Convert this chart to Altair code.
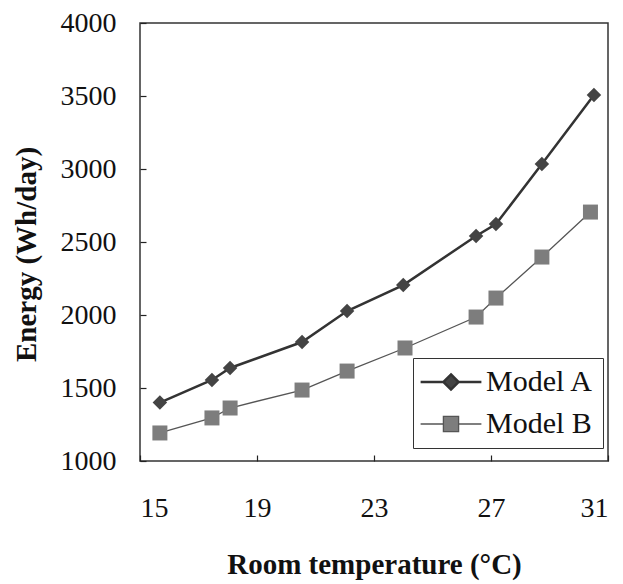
import altair as alt
import pandas as pd

temp_a = [15.68, 17.46, 18.08, 20.54, 22.08, 24.0, 26.49, 27.17, 28.74, 30.52]
energy_a = [1400, 1555, 1637, 1815, 2027, 2205, 2541, 2623, 3034, 3507]
temp_b = [15.68, 17.46, 18.08, 20.54, 22.08, 24.06, 26.49, 27.17, 28.74, 30.4]
energy_b = [1192, 1295, 1363, 1486, 1616, 1774, 1986, 2116, 2397, 2705]
series_names = ["Model A", "Model B"]
x_ticks = [15, 19, 23, 27, 31]
y_ticks = [1000, 1500, 2000, 2500, 3000, 3500, 4000]

df = pd.DataFrame({
    "temp": temp_a + temp_b,
    "energy": energy_a + energy_b,
    "series": [series_names[0]] * len(temp_a) + [series_names[1]] * len(temp_b),
})

FONT = "Liberation Serif"

x = alt.X("temp:Q", scale=alt.Scale(domain=[15, 31], nice=False, zero=False),
          axis=alt.Axis(values=x_ticks, title="Room temperature (°C)", domain=False,
                        offset=-6, tickSize=6, labelPadding=33, grid=False, format="d",
                        titleBaseline="alphabetic", titleY=118))
y = alt.Y("energy:Q", scale=alt.Scale(domain=[1000, 4000], nice=False, zero=False),
          axis=alt.Axis(values=y_ticks, title="Energy (Wh/day)", domain=False,
                        offset=-6, tickSize=6, labelPadding=24, grid=False, format="d",
                        titleAngle=-90, titleBaseline="alphabetic", titleX=-111, titleY=231))

base = alt.Chart(df)

line_a = base.transform_filter(alt.datum.series == "Model A").mark_line(
    color="#333333", strokeWidth=2.5).encode(x=x, y=y)
line_b = base.transform_filter(alt.datum.series == "Model B").mark_line(
    color="#555555", strokeWidth=1.3).encode(x=x, y=y)
pts_a = base.transform_filter(alt.datum.series == "Model A").mark_point(
    shape="diamond", filled=True, size=210, color="#444444", opacity=1).encode(x=x, y=y)
pts_b = base.transform_filter(alt.datum.series == "Model B").mark_point(
    shape="square", filled=True, size=225, color="#7d7d7d", opacity=1).encode(x=x, y=y)

path_a = "M-4,0L-1,0M1,0L4,0M0,-1L1,0L0,1L-1,0Z"
path_b = "M-4,0L-1,0M1,0L4,0M-1,-1L1,-1L1,1L-1,1Z"

legend = alt.Legend(title=None, orient="none", legendX=273, legendY=335,
                    strokeColor="#333333", fillColor="white", padding=9,
                    labelFont=FONT, labelFontSize=30, labelColor="#111111",
                    symbolSize=231, symbolOffset=14, labelOffset=20, rowPadding=12)

legend_layer = base.transform_filter("false").mark_point(filled=True, size=231, opacity=1).encode(
    x=x, y=y,
    fill=alt.Fill("series:N", scale=alt.Scale(domain=series_names, range=["#444444", "#7d7d7d"]),
                  legend=legend),
    stroke=alt.Stroke("series:N", scale=alt.Scale(domain=series_names, range=["#333333", "#555555"]),
                      legend=legend),
    shape=alt.Shape("series:N", scale=alt.Scale(domain=series_names, range=[path_a, path_b]),
                    legend=legend),
    strokeWidth=alt.StrokeWidth("series:N", scale=alt.Scale(domain=series_names, range=[2.5, 1.3]),
                                legend=legend),
)

chart = alt.layer(line_a, line_b, pts_a, pts_b, legend_layer).properties(
    width=468, height=438,
    autosize=alt.AutoSizeParams(type="none"),
    padding={"left": 132, "top": 15, "right": 7, "bottom": 122},
    background="white",
).configure_view(
    stroke="#333333", strokeWidth=1.5
).configure_axis(
    labelFont=FONT, labelFontSize=28, labelColor="#111111",
    titleFont=FONT, titleFontSize=29, titleFontWeight="bold", titleColor="#111111",
    tickColor="#222222", tickWidth=1.2,
)

chart.save("out.html", embed_options={"renderer": "svg", "actions": False})
